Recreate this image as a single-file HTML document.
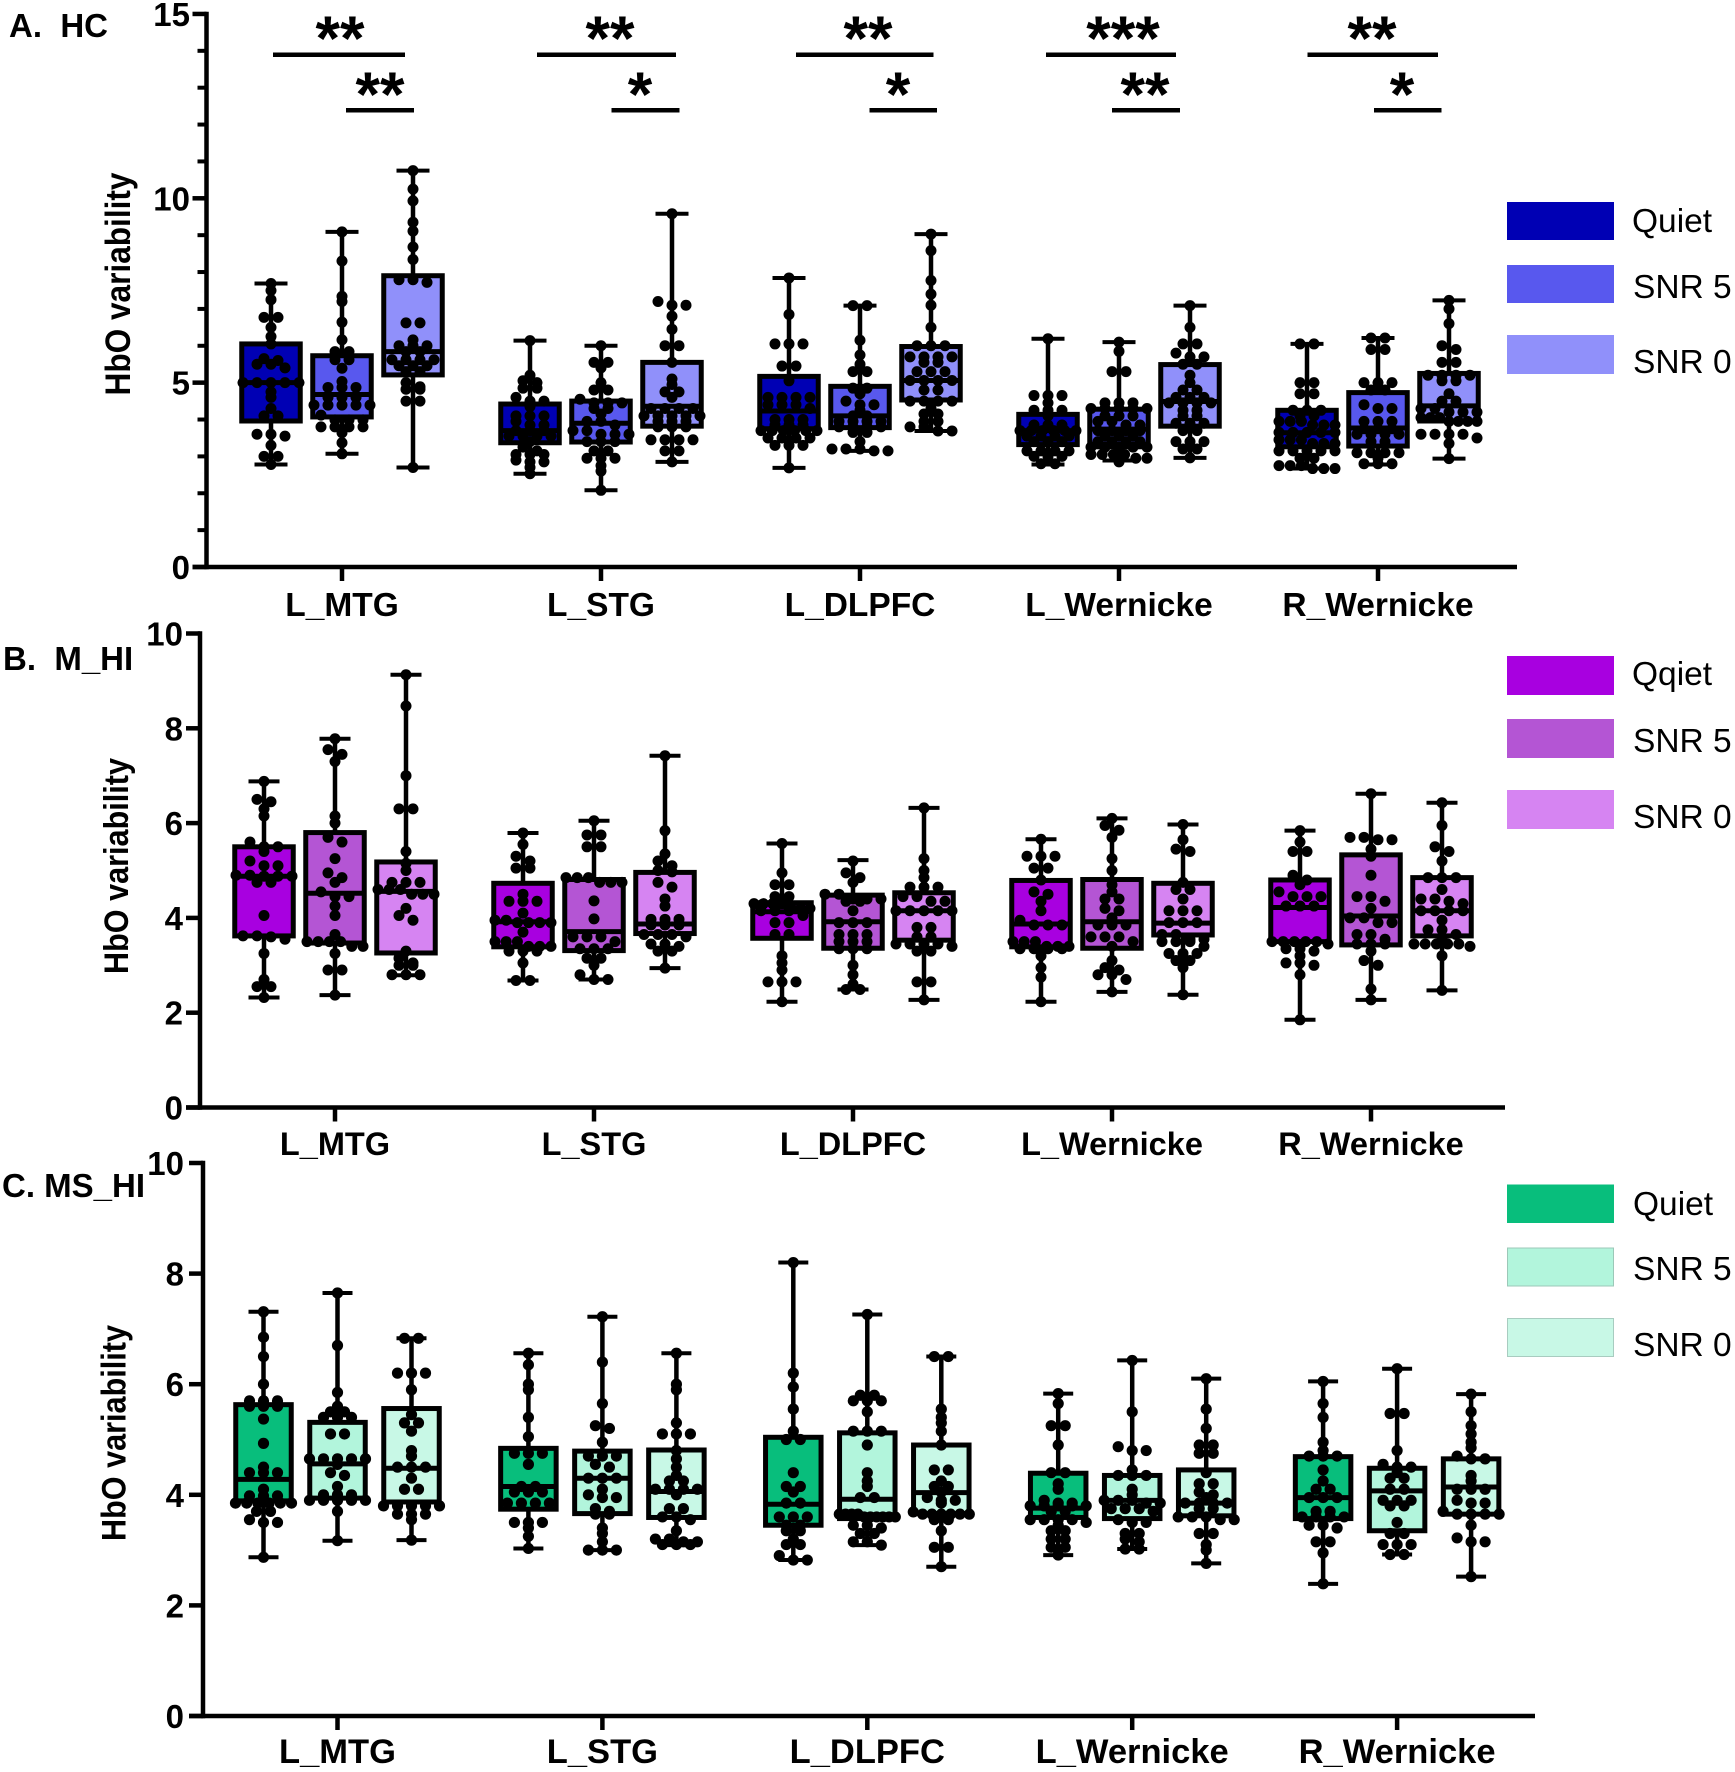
<!DOCTYPE html>
<html lang="en">
<head>
<meta charset="utf-8">
<title>HbO variability by region and listening condition</title>
<style>
html,body{margin:0;padding:0;background:#fff;}
svg{display:block;}
text{font-family:"Liberation Sans",Arial,sans-serif;fill:#000;white-space:pre;}
.b{font-weight:bold;}
</style>
</head>
<body>
<svg id="figure" xmlns="http://www.w3.org/2000/svg" width="1735" height="1772" viewBox="0 0 1735 1772">
  <rect x="0" y="0" width="1735" height="1772" fill="#fff"/>

  <text class="b" x="9" y="37" font-size="33">A.  HC</text>
  <text class="b" x="3" y="670" font-size="33">B.  M_HI</text>
  <text class="b" x="2" y="1197" font-size="33">C. MS_HI</text>

  <text class="b" font-size="35" text-anchor="middle" textLength="223" lengthAdjust="spacingAndGlyphs" transform="translate(130 284) rotate(-90)">HbO variability</text>
  <text class="b" font-size="34" text-anchor="middle" textLength="216" lengthAdjust="spacingAndGlyphs" transform="translate(128 866) rotate(-90)">HbO variability</text>
  <text class="b" font-size="34" text-anchor="middle" textLength="216" lengthAdjust="spacingAndGlyphs" transform="translate(125.500 1433) rotate(-90)">HbO variability</text>

  <g>
    <rect x="1507" y="202" width="107" height="38" fill="#0000b4"/>
    <text x="1632" y="232" font-size="33.500">Quiet</text>
    <rect x="1507" y="265" width="107" height="38" fill="#5858ee"/>
    <text x="1633" y="298" font-size="33.500">SNR 5</text>
    <rect x="1507" y="335" width="107" height="39" fill="#9090fa"/>
    <text x="1633" y="373" font-size="33.500">SNR 0</text>
  </g>
  <g>
    <rect x="1507" y="656" width="107" height="39" fill="#a800e0"/>
    <text x="1632" y="685" font-size="33.500">Qqiet</text>
    <rect x="1507" y="719" width="107" height="39" fill="#b455d4"/>
    <text x="1633" y="752" font-size="33.500">SNR 5</text>
    <rect x="1507" y="790" width="107" height="39" fill="#d684f2"/>
    <text x="1633" y="828" font-size="33.500">SNR 0</text>
  </g>
  <g>
    <rect x="1507" y="1184.500" width="107" height="38.500" fill="#08be7c"/>
    <text x="1633" y="1215" font-size="33.500">Quiet</text>
    <rect x="1507.500" y="1248" width="106" height="38" fill="#b2f5dc" stroke="#9cc8b8" stroke-width="1"/>
    <text x="1633" y="1280" font-size="33.500">SNR 5</text>
    <rect x="1507.500" y="1318.500" width="106" height="38" fill="#c8f8e6" stroke="#a8ccc0" stroke-width="1"/>
    <text x="1633" y="1356" font-size="33.500">SNR 0</text>
  </g>

  <g>
    <rect x="273" y="52.500" width="132" height="4.500"/>
    <rect x="346" y="108" width="68" height="4.500"/>
    <rect x="537" y="52.500" width="139" height="4.500"/>
    <rect x="611.500" y="108" width="68" height="4.500"/>
    <rect x="796" y="52.500" width="137.500" height="4.500"/>
    <rect x="869.500" y="108" width="67.500" height="4.500"/>
    <rect x="1046" y="52.500" width="130" height="4.500"/>
    <rect x="1112" y="108" width="68" height="4.500"/>
    <rect x="1307.500" y="52.500" width="130.500" height="4.500"/>
    <rect x="1374" y="108" width="67.500" height="4.500"/>
    <text class="b" x="340" y="60" font-size="63" text-anchor="middle">**</text>
    <text class="b" x="380" y="116" font-size="63" text-anchor="middle">**</text>
    <text class="b" x="610" y="60" font-size="63" text-anchor="middle">**</text>
    <text class="b" x="640" y="116" font-size="63" text-anchor="middle">*</text>
    <text class="b" x="868" y="60" font-size="63" text-anchor="middle">**</text>
    <text class="b" x="898" y="116" font-size="63" text-anchor="middle">*</text>
    <text class="b" x="1123" y="60" font-size="63" text-anchor="middle">***</text>
    <text class="b" x="1145" y="116" font-size="63" text-anchor="middle">**</text>
    <text class="b" x="1372" y="60" font-size="63" text-anchor="middle">**</text>
    <text class="b" x="1402" y="116" font-size="63" text-anchor="middle">*</text>
  </g>
</svg>

<script>
const regions = ['L_MTG','L_STG','L_DLPFC','L_Wernicke','R_Wernicke'];
const conditions = ['quiet','snr5','snr0'];

/* Panel A: HC */
const hcMajorTicks = [0,5,10,15];
const hcMinorTicks = [1,2,3,4,6,7,8,9,11,12,13,14];
const hcWhiskerHigh = [7.69,9.09,10.75, 6.14,6.0,9.58, 7.84,7.09,9.03, 6.19,6.1,7.09, 6.05,6.21,7.23];
const hcQ3 = [6.05,5.73,7.9, 4.42,4.5,5.55, 5.17,4.9,5.98, 4.14,4.28,5.49, 4.25,4.73,5.25];
const hcMedian = [5.0,4.68,5.84, 3.7,3.9,4.36, 4.23,4.1,5.06, 3.7,3.74,4.49, 3.64,3.77,4.37];
const hcQ1 = [3.96,4.07,5.21, 3.37,3.39,3.82, 3.75,3.78,4.53, 3.32,3.26,3.82, 3.26,3.28,3.96];
const hcWhiskerLow = [2.78,3.07,2.7, 2.53,2.08,2.85, 2.69,3.15,3.69, 2.78,2.89,2.96, 2.67,2.78,2.94];
const hcPoints = [
 [7.69,7.5,7.25,6.77,6.77,6.5,6.25,6.05,5.65,5.6,5.5,5.5,5.4,5.0,5.0,5.0,5.0,5.0,4.75,4.6,4.3,4.1,4.1,3.6,3.6,3.55,3.3,3.0,3.0,2.78],
 [9.09,8.3,7.34,7.2,6.64,6.16,5.84,5.84,5.62,5.62,5.39,5.03,4.87,4.87,4.87,4.6,4.6,4.6,4.39,4.39,4.39,4.39,4.39,4.12,3.99,3.99,3.99,3.8,3.8,3.8,3.8,3.64,3.37,3.07],
 [10.75,10.25,9.93,9.35,9.11,8.68,8.34,7.79,7.79,7.72,6.62,6.62,6.16,6.0,6.0,6.0,5.84,5.84,5.62,5.62,5.62,5.62,5.46,5.46,5.46,5.3,5.3,5.0,4.89,4.82,4.82,4.5,4.5,2.7],
 [6.14,5.2,5.05,5.0,4.85,4.85,4.6,4.5,4.5,4.35,4.1,4.1,4.1,3.95,3.85,3.85,3.7,3.7,3.7,3.55,3.55,3.55,3.55,3.4,3.25,3.15,3.05,3.05,3.05,2.9,2.85,2.85,2.7,2.53],
 [6.0,5.55,5.55,5.4,5.0,4.8,4.8,4.55,4.45,4.45,4.45,4.3,4.3,4.15,3.95,3.95,3.85,3.7,3.7,3.6,3.6,3.6,3.4,3.4,3.4,3.15,3.15,2.95,2.95,2.95,2.75,2.6,2.08],
 [9.58,7.2,7.1,7.1,6.8,6.45,6.0,6.0,5.55,5.1,4.95,4.75,4.75,4.6,4.3,4.3,4.3,4.3,4.1,4.1,4.1,4.1,4.1,3.95,3.95,3.95,3.8,3.8,3.8,3.45,3.45,3.45,3.45,3.15,3.15,2.85],
 [7.84,6.85,6.05,6.05,6.05,5.45,5.45,5.05,4.6,4.6,4.6,4.6,4.4,4.4,4.4,4.3,4.0,4.0,4.0,3.85,3.85,3.85,3.7,3.7,3.7,3.7,3.7,3.7,3.5,3.5,3.5,3.5,3.3,3.3,3.3,2.69],
 [7.09,7.09,6.15,5.75,5.5,5.3,5.3,4.85,4.85,4.7,4.5,4.4,4.4,4.25,4.1,4.1,3.95,3.95,3.95,3.95,3.8,3.8,3.8,3.8,3.65,3.65,3.4,3.2,3.2,3.2,3.15,3.15],
 [9.03,8.58,7.77,7.4,7.1,6.5,6.0,6.0,6.0,5.7,5.7,5.7,5.7,5.55,5.55,5.3,5.3,5.3,5.06,5.06,5.06,5.06,4.8,4.8,4.5,4.5,4.5,4.5,4.3,4.15,4.15,3.95,3.95,3.8,3.8,3.69,3.69],
 [6.19,4.65,4.65,4.65,4.45,4.25,4.25,4.25,4.1,3.85,3.85,3.85,3.7,3.7,3.7,3.7,3.7,3.7,3.55,3.55,3.55,3.55,3.4,3.4,3.4,3.15,3.15,3.15,3.15,3.0,3.0,3.0,2.8,2.8],
 [6.1,5.85,5.3,5.3,4.45,4.45,4.45,4.3,4.3,4.3,4.3,4.3,4.1,4.1,4.1,3.95,3.95,3.85,3.85,3.7,3.7,3.7,3.7,3.55,3.55,3.55,3.4,3.4,3.4,3.4,3.25,3.25,3.25,3.25,3.25,3.05,3.05,3.05,3.05,2.95,2.95,2.85],
 [7.09,6.5,6.05,6.05,5.8,5.7,5.7,5.5,5.5,5.2,5.0,4.8,4.8,4.6,4.6,4.6,4.45,4.45,4.45,4.45,4.25,4.25,4.1,4.1,3.9,3.9,3.9,3.7,3.7,3.4,3.4,3.4,3.2,3.2,2.96],
 [6.05,6.05,5.0,5.0,4.7,4.7,4.25,4.25,4.25,4.1,4.1,3.95,3.95,3.95,3.85,3.85,3.85,3.65,3.65,3.65,3.65,3.65,3.45,3.45,3.45,3.35,3.35,3.35,3.15,3.15,3.15,3.15,3.15,2.95,2.95,2.75,2.75,2.75,2.67,2.67,2.67],
 [6.21,6.21,5.9,5.9,5.0,5.0,5.0,4.8,4.8,4.4,4.3,4.3,3.95,3.95,3.95,3.75,3.75,3.75,3.6,3.6,3.6,3.6,3.4,3.4,3.1,3.1,3.1,3.1,2.95,2.8,2.8,2.8],
 [7.23,7.0,6.6,6.0,5.9,5.55,5.55,5.2,5.2,5.2,5.2,5.05,5.05,4.7,4.5,4.5,4.3,4.3,4.2,4.2,4.2,4.05,4.05,4.05,3.95,3.95,3.95,3.95,3.6,3.6,3.6,3.6,3.5,3.35,2.94]
];

/* Panel B: M_HI */
const mhMajorTicks = [0,2,4,6,8,10];
const mhMinorTicks = [];
const mhWhiskerHigh = [6.88,7.78,9.13, 5.79,6.05,7.42, 5.57,5.22,6.32, 5.66,6.1,5.97, 5.84,6.62,6.43];
const mhQ3 = [5.5,5.8,5.18, 4.73,4.81,4.96, 4.32,4.48,4.53, 4.79,4.81,4.73, 4.8,5.33,4.85];
const mhMedian = [4.88,4.52,4.56, 3.92,3.71,3.87, 4.13,3.92,4.15, 3.87,3.92,3.89, 4.22,4.04,4.15];
const mhQ1 = [3.62,3.47,3.26, 3.39,3.31,3.67, 3.57,3.36,3.53, 3.39,3.36,3.64, 3.5,3.43,3.62];
const mhWhiskerLow = [2.32,2.37,2.79, 2.68,2.7,2.94, 2.23,2.49,2.27, 2.23,2.44,2.38, 1.85,2.27,2.47];
const mhPoints = [
 [6.88,6.5,6.45,6.3,6.15,5.6,5.5,5.5,5.4,5.2,5.1,5.1,4.9,4.9,4.88,4.88,4.88,4.75,4.75,4.05,3.62,3.62,3.6,3.55,3.25,2.7,2.55,2.55,2.32],
 [7.78,7.55,7.45,7.3,6.15,6.0,5.7,5.6,5.25,4.95,4.85,4.75,4.55,4.45,4.45,4.25,4.05,3.65,3.5,3.5,3.5,3.5,3.4,3.4,3.25,2.9,2.9,2.37],
 [9.13,8.47,7.0,6.3,6.3,5.4,5.15,5.0,4.75,4.75,4.75,4.6,4.6,4.6,4.5,4.5,4.5,4.2,4.05,3.95,3.3,3.15,3.05,3.0,3.0,2.8,2.8,2.8],
 [5.79,5.55,5.3,5.2,5.05,5.05,4.5,4.35,4.35,4.35,4.1,3.95,3.95,3.9,3.9,3.9,3.9,3.7,3.5,3.5,3.5,3.4,3.4,3.4,3.3,3.3,3.3,3.05,2.68,2.68],
 [6.05,5.75,5.75,5.5,5.5,4.85,4.85,4.85,4.75,4.75,4.75,4.36,3.98,3.6,3.6,3.6,3.5,3.35,3.35,3.35,3.15,3.15,3.0,2.8,2.7,2.7],
 [7.42,5.84,5.35,5.2,5.1,5.0,4.97,4.75,4.65,4.4,4.25,3.97,3.97,3.97,3.85,3.85,3.85,3.65,3.65,3.65,3.6,3.45,3.45,3.4,3.3,3.3,2.94],
 [5.57,4.95,4.7,4.7,4.45,4.45,4.3,4.3,4.3,4.3,4.2,4.2,4.2,4.15,4.15,4.15,4.05,3.9,3.9,3.65,3.65,3.2,3.05,2.9,2.65,2.65,2.65,2.23],
 [5.2,4.95,4.85,4.75,4.5,4.5,4.4,4.4,4.4,4.35,4.35,4.15,3.9,3.9,3.9,3.65,3.65,3.65,3.5,3.5,3.5,3.35,3.35,3.35,3.0,2.8,2.6,2.49,2.49],
 [6.32,5.25,5.0,4.85,4.65,4.65,4.65,4.45,4.45,4.35,4.35,4.15,4.15,4.15,4.15,4.15,3.8,3.8,3.6,3.6,3.45,3.45,3.45,3.45,3.4,3.3,3.3,2.65,2.65,2.27],
 [5.66,5.3,5.3,5.3,5.05,5.05,4.8,4.55,4.5,4.35,4.15,3.95,3.85,3.85,3.85,3.5,3.5,3.5,3.4,3.4,3.4,3.35,3.35,3.35,3.35,3.2,2.95,2.75,2.23],
 [6.1,5.95,5.85,5.7,5.25,5.0,4.7,4.55,4.4,4.4,4.2,4.15,4.0,3.85,3.85,3.85,3.6,3.6,3.6,3.5,3.4,3.1,2.95,2.9,2.8,2.8,2.7,2.44],
 [5.97,5.65,5.45,5.4,4.75,4.6,4.6,4.4,4.15,4.15,4.15,3.9,3.9,3.9,3.65,3.65,3.55,3.55,3.5,3.5,3.5,3.4,3.25,3.25,3.25,3.1,3.1,2.95,2.38],
 [5.84,5.6,5.4,5.4,4.9,4.8,4.7,4.55,4.45,4.45,4.45,4.25,4.25,4.25,3.5,3.5,3.5,3.5,3.5,3.45,3.35,3.35,3.3,3.2,3.05,3.05,3.0,2.8,1.85],
 [6.62,5.7,5.7,5.65,5.65,5.45,5.3,4.9,4.45,4.45,4.35,4.2,4.0,4.0,3.9,3.9,3.65,3.65,3.55,3.45,3.45,3.45,3.3,3.1,3.0,2.5,2.27],
 [6.43,5.95,5.5,5.4,5.2,4.85,4.85,4.85,4.6,4.4,4.4,4.35,4.3,4.15,4.15,4.15,4.15,3.95,3.75,3.75,3.65,3.6,3.45,3.45,3.45,3.45,3.45,3.4,3.2,2.47]
];

/* Panel C: MS_HI */
const msMajorTicks = [0,2,4,6,8,10];
const msMinorTicks = [];
const msWhiskerHigh = [7.31,7.65,6.83, 6.56,7.22,6.56, 8.2,7.26,6.5, 5.83,6.43,6.1, 6.05,6.28,5.82];
const msQ3 = [5.63,5.31,5.56, 4.84,4.79,4.81, 5.04,5.12,4.9, 4.39,4.35,4.45, 4.69,4.48,4.65];
const msMedian = [4.28,4.56,4.48, 4.15,4.3,4.06, 3.83,3.92,4.04, 3.76,3.9,3.85, 3.95,4.07,4.14];
const msQ1 = [3.89,3.94,3.87, 3.74,3.66,3.59, 3.45,3.57,3.66, 3.59,3.57,3.62, 3.57,3.35,3.65];
const msWhiskerLow = [2.87,3.17,3.18, 3.03,3.0,3.09, 2.82,3.09,2.7, 2.91,3.02,2.76, 2.39,2.92,2.52];
const msPoints = [
 [7.31,6.85,6.5,6.0,5.7,5.7,5.7,5.6,5.6,5.6,5.37,4.93,4.5,4.4,4.4,4.4,4.1,3.98,3.98,3.98,3.85,3.85,3.85,3.85,3.85,3.85,3.7,3.7,3.55,3.5,3.5,2.87],
 [7.65,6.7,5.85,5.6,5.5,5.5,5.4,5.4,5.4,5.1,5.1,4.65,4.65,4.65,4.65,4.65,4.55,4.4,4.35,4.15,4.0,4.0,4.0,3.9,3.9,3.9,3.9,3.9,3.7,3.17],
 [6.83,6.83,6.2,6.2,6.2,5.9,5.45,5.3,5.3,5.15,4.8,4.7,4.5,4.5,4.5,4.3,4.1,4.1,3.8,3.8,3.8,3.8,3.8,3.65,3.65,3.65,3.55,3.18],
 [6.56,6.35,6.0,5.9,5.4,5.05,4.75,4.75,4.75,4.55,4.15,4.15,4.05,4.05,4.05,3.85,3.85,3.85,3.85,3.5,3.5,3.5,3.4,3.25,3.03],
 [7.22,6.4,5.65,5.25,5.2,4.95,4.7,4.7,4.7,4.55,4.5,4.3,4.3,4.3,4.1,4.0,3.95,3.95,3.75,3.7,3.65,3.65,3.4,3.3,3.15,3.0,3.0,3.0],
 [6.56,6.0,5.9,5.3,5.1,5.1,5.1,4.8,4.65,4.5,4.35,4.25,4.25,4.1,4.1,4.1,4.1,4.0,3.75,3.75,3.6,3.6,3.55,3.35,3.2,3.2,3.15,3.15,3.1,3.1,3.1],
 [8.2,6.2,5.95,5.55,5.15,5.0,5.0,4.4,4.15,4.15,4.05,3.85,3.85,3.6,3.6,3.6,3.45,3.45,3.35,3.35,3.2,3.1,3.1,2.9,2.82,2.82],
 [7.26,5.8,5.8,5.7,5.7,5.7,5.5,5.15,5.15,5.15,4.9,4.4,4.25,4.15,3.95,3.95,3.65,3.65,3.65,3.65,3.6,3.6,3.6,3.6,3.6,3.6,3.45,3.45,3.4,3.3,3.3,3.15,3.15,3.09],
 [6.5,6.5,5.55,5.4,5.3,5.15,4.9,4.45,4.45,4.25,4.15,4.15,4.05,3.95,3.9,3.9,3.85,3.69,3.65,3.65,3.65,3.65,3.65,3.65,3.55,3.55,3.35,3.05,3.05,2.7],
 [5.83,5.65,5.25,5.25,4.9,4.4,4.4,4.2,4.1,3.9,3.85,3.85,3.8,3.8,3.8,3.8,3.8,3.7,3.7,3.55,3.55,3.55,3.55,3.5,3.45,3.35,3.35,3.2,3.2,3.05,3.05,2.91],
 [6.43,5.5,4.87,4.8,4.8,4.45,4.35,4.35,4.35,4.1,4.0,3.9,3.9,3.9,3.85,3.85,3.75,3.75,3.75,3.7,3.55,3.5,3.5,3.3,3.3,3.2,3.15,3.02,3.02],
 [6.1,5.55,5.2,4.9,4.9,4.75,4.75,4.4,4.2,4.2,4.05,4.0,3.95,3.85,3.85,3.85,3.85,3.75,3.75,3.6,3.6,3.6,3.55,3.55,3.3,3.3,3.1,3.0,2.76],
 [6.05,5.65,5.4,4.95,4.8,4.7,4.7,4.7,4.45,4.25,4.1,4.1,3.95,3.95,3.95,3.7,3.7,3.6,3.6,3.6,3.6,3.45,3.45,3.4,3.15,3.15,2.95,2.39],
 [6.28,5.47,5.47,4.8,4.55,4.5,4.5,4.4,4.3,4.3,4.1,4.1,3.9,3.9,3.9,3.8,3.8,3.5,3.3,3.3,3.1,3.1,3.1,2.92,2.92],
 [5.82,5.5,5.25,5.1,4.95,4.85,4.7,4.65,4.65,4.35,4.25,4.1,4.1,4.1,3.9,3.85,3.85,3.7,3.65,3.65,3.65,3.65,3.45,3.22,3.15,3.15,2.52]
];

const SVGNS = 'http://www.w3.org/2000/svg';
const figure = document.getElementById('figure');

function makeEl(tag, parent) {
  const el = document.createElementNS(SVGNS, tag);
  parent.appendChild(el);
  return el;
}
function setAll(el, props) {
  Object.keys(props).forEach(function (k) { el.setAttribute(k, props[k]); });
  return el;
}

/* Column-scatter layout: values close in y form a row, centred on the box. */
function swarmOffsets(values, yFn, binPx, grid, maxOffset) {
  const order = values.map(function (v, i) { return i; })
    .sort(function (a, b) { return values[b] - values[a]; });
  const offsets = new Array(values.length).fill(0);
  let start = 0;
  while (start < order.length) {
    const firstY = yFn(values[order[start]]);
    let end = start + 1;
    while (end < order.length && yFn(values[order[end]]) - firstY < binPx) end++;
    const n = end - start;
    const step = n > 1 ? Math.min(grid, (maxOffset * 2) / (n - 1)) : 0;
    for (let k = 0; k < n; k++) {
      offsets[order[start + k]] = (k - (n - 1) / 2) * step;
    }
    start = end;
  }
  return offsets;
}

function drawPanel(cfg) {
  const yScale = function (v) { return cfg.y0 - v * cfg.unit; };
  const groupX = function (g) { return cfg.x0 + g * cfg.groupStep; };
  const boxX = function (g, s) { return groupX(g) + (s - 1) * cfg.boxStep; };

  const panel = makeEl('g', figure);
  
  

  /* boxes */
  regions.forEach(function (region, g) {
    conditions.forEach(function (cond, s) {
      const i = g * 3 + s;
      const cx = boxX(g, s);
      const box = makeEl('g', panel);
      
      

      const whiskerTop = makeEl('line', box);
      
      
      setAll(whiskerTop, { x1: cx, x2: cx, y1: yScale(cfg.hi[i]), y2: yScale(cfg.q3[i]), stroke: '#000', 'stroke-width': cfg.whiskerW });

      const whiskerBottom = makeEl('line', box);
      
      
      setAll(whiskerBottom, { x1: cx, x2: cx, y1: yScale(cfg.q1[i]), y2: yScale(cfg.lo[i]), stroke: '#000', 'stroke-width': cfg.whiskerW });

      const capTop = makeEl('line', box);
      
      
      setAll(capTop, { x1: cx - cfg.capHalf, x2: cx + cfg.capHalf, y1: yScale(cfg.hi[i]), y2: yScale(cfg.hi[i]), stroke: '#000', 'stroke-width': 4 });

      const capBottom = makeEl('line', box);
      
      
      setAll(capBottom, { x1: cx - cfg.capHalf, x2: cx + cfg.capHalf, y1: yScale(cfg.lo[i]), y2: yScale(cfg.lo[i]), stroke: '#000', 'stroke-width': 4 });

      const rect = makeEl('rect', box);
      
      
      setAll(rect, { x: cx - cfg.boxW / 2, width: cfg.boxW, y: yScale(cfg.q3[i]), height: yScale(cfg.q1[i]) - yScale(cfg.q3[i]), fill: cfg.colors[s], stroke: '#000', 'stroke-width': cfg.boxStroke });

      const med = makeEl('line', box);
      
      
      setAll(med, { x1: cx - cfg.boxW / 2, x2: cx + cfg.boxW / 2, y1: yScale(cfg.med[i]), y2: yScale(cfg.med[i]), stroke: '#000', 'stroke-width': cfg.boxStroke });

      const offsets = swarmOffsets(cfg.points[i], yScale, cfg.binPx, cfg.grid, cfg.maxOffset);
      cfg.points[i].forEach(function (v, j) {
        const dot = makeEl('circle', box);
        
        
        setAll(dot, { cx: cx + offsets[j], cy: yScale(v), r: cfg.dotR, fill: '#000' });
      });
    });
  });

  /* y axis */
  const yAxis = makeEl('line', panel);
  
  
  setAll(yAxis, { x1: cfg.axisX, x2: cfg.axisX, y1: yScale(cfg.major[cfg.major.length - 1]) - cfg.axisW / 2, y2: cfg.y0 + cfg.axisW / 2, stroke: '#000', 'stroke-width': cfg.axisW });

  cfg.major.forEach(function (t) {
    const tick = makeEl('line', panel);
    
    
    setAll(tick, { x1: cfg.axisX - cfg.majorLen, x2: cfg.axisX, y1: yScale(t), y2: yScale(t), stroke: '#000', 'stroke-width': cfg.axisW });

    const label = makeEl('text', panel);
    
    
    setAll(label, { x: cfg.labelX, y: yScale(t) + cfg.labelDy, 'font-size': cfg.labelSize, 'font-weight': 'bold', 'text-anchor': 'end' });
    label.textContent = String(t);
  });

  cfg.minor.forEach(function (t) {
    const tick = makeEl('line', panel);
    
    
    setAll(tick, { x1: cfg.axisX - cfg.minorLen, x2: cfg.axisX, y1: yScale(t), y2: yScale(t), stroke: '#000', 'stroke-width': cfg.axisW - 0.5 });
  });

  /* x axis */
  const xAxis = makeEl('line', panel);
  
  
  setAll(xAxis, { x1: cfg.axisX - cfg.majorLen, x2: cfg.xEnd, y1: cfg.y0, y2: cfg.y0, stroke: '#000', 'stroke-width': cfg.axisW });

  regions.forEach(function (region, g) {
    const tick = makeEl('line', panel);
    
    
    setAll(tick, { x1: groupX(g), x2: groupX(g), y1: cfg.y0, y2: cfg.y0 + cfg.majorLen, stroke: '#000', 'stroke-width': cfg.axisW });

    const label = makeEl('text', panel);
    
    
    setAll(label, { x: groupX(g), y: cfg.xLabelY, 'font-size': cfg.xLabelSize, 'font-weight': 'bold', 'text-anchor': 'middle' });
    label.textContent = region;
  });
}

drawPanel({
  id: 'hc', y0: 567, unit: 36.87, x0: 342, groupStep: 259, boxStep: 71, boxW: 58.5, boxStroke: 5, whiskerW: 4.5,
  axisX: 206.5, axisW: 4.5, xEnd: 1517, majorLen: 14, minorLen: 9, capHalf: 16.5,
  dotR: 5.5, binPx: 5, grid: 14, maxOffset: 28, labelX: 190, labelDy: 12, labelSize: 33,
  xLabelY: 616, xLabelSize: 33.5, colors: ['#0000b4','#5858ee','#9090fa'],
  major: hcMajorTicks, minor: hcMinorTicks, hi: hcWhiskerHigh, q3: hcQ3, med: hcMedian, q1: hcQ1, lo: hcWhiskerLow, points: hcPoints
});
drawPanel({
  id: 'mhi', y0: 1107.5, unit: 47.4, x0: 335, groupStep: 259, boxStep: 71, boxW: 58.5, boxStroke: 5, whiskerW: 4.5,
  axisX: 200, axisW: 4.5, xEnd: 1505, majorLen: 14, minorLen: 9, capHalf: 15.5,
  dotR: 5.5, binPx: 5, grid: 14, maxOffset: 28, labelX: 183, labelDy: 12, labelSize: 33,
  xLabelY: 1155, xLabelSize: 32.5, colors: ['#a800e0','#b455d4','#d684f2'],
  major: mhMajorTicks, minor: mhMinorTicks, hi: mhWhiskerHigh, q3: mhQ3, med: mhMedian, q1: mhQ1, lo: mhWhiskerLow, points: mhPoints
});
drawPanel({
  id: 'mshi', y0: 1716, unit: 55.3, x0: 337.5, groupStep: 264.9, boxStep: 74, boxW: 55.5, boxStroke: 5, whiskerW: 4.5,
  axisX: 203, axisW: 4.5, xEnd: 1535, majorLen: 14, minorLen: 9, capHalf: 15,
  dotR: 5.6, binPx: 5, grid: 14, maxOffset: 28, labelX: 184, labelDy: 12, labelSize: 33,
  xLabelY: 1763, xLabelSize: 34.5, colors: ['#08be7c','#b2f5dc','#c8f8e6'],
  major: msMajorTicks, minor: msMinorTicks, hi: msWhiskerHigh, q3: msQ3, med: msMedian, q1: msQ1, lo: msWhiskerLow, points: msPoints
});
</script>
</body>
</html>
